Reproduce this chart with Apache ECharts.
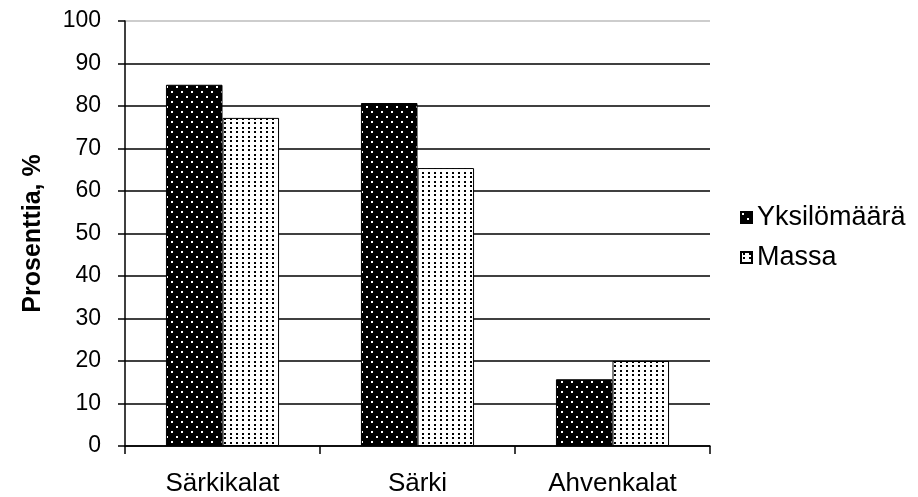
<!DOCTYPE html>
<html>
<head>
<meta charset="utf-8">
<script src="https://cdn.jsdelivr.net/npm/echarts@6/dist/echarts.min.js"></script>
<style>
  html, body { margin: 0; padding: 0; background: #fff; }
  #chart { width: 918px; height: 497px; }
</style>
</head>
<body>
<div id="chart"></div>
<script>
// Fish catch shares by group
const categories = ['Särkikalat', 'Särki', 'Ahvenkalat'];
const seriesNames = ['Yksilömäärä', 'Massa'];
const yksilomaara = [85, 80.7, 15.7];
const massa = [77.2, 65.4, 20];
const yTicks = [0, 10, 20, 30, 40, 50, 60, 70, 80, 90, 100];

const FONT = '"Liberation Sans", Arial, sans-serif';

// Dotted fill tiles: white dots on black, and black dots on white
function makeTile(w, h, bg, fg, dots) {
  const c = document.createElement('canvas');
  c.width = w; c.height = h;
  const ctx = c.getContext('2d');
  ctx.fillStyle = bg; ctx.fillRect(0, 0, w, h);
  ctx.fillStyle = fg;
  dots.forEach(d => ctx.fillRect(d[0], d[1], d[2], d[3]));
  return c;
}
const darkTile = makeTile(10, 10, '#000', '#fff', [[1, 1, 2, 2], [6, 6, 2, 2]]);
const lightTile = makeTile(6, 9, '#fff', '#000', [[2, 1, 2, 2], [2, 5, 2, 2]]);

const gridColors = yTicks.map((v, i) => i === yTicks.length - 1 ? '#bdbdbd' : '#000');

const chart = echarts.init(document.getElementById('chart'), null, { renderer: 'canvas' });
chart.setOption({
  animation: false,
  backgroundColor: '#fff',
  textStyle: { fontFamily: FONT, color: '#000' },
  grid: { left: 125, right: 208, top: 21, bottom: 50, containLabel: false },
  legend: {
    orient: 'vertical',
    left: 735,
    top: 199,
    itemWidth: 11,
    itemHeight: 11,
    itemGap: 13,
    icon: 'rect',
    textStyle: { fontFamily: FONT, fontSize: 27, color: '#000' },
    data: seriesNames
  },
  xAxis: {
    type: 'category',
    data: categories,
    axisLine: { lineStyle: { color: '#000', width: 1.5 } },
    axisTick: { show: true, length: 8, lineStyle: { color: '#000', width: 1.5 } },
    axisLabel: { fontFamily: FONT, fontSize: 26, color: '#000', margin: 25 },
    splitLine: { show: false }
  },
  yAxis: {
    type: 'value',
    min: yTicks[0],
    max: yTicks[yTicks.length - 1],
    interval: 10,
    name: 'Prosenttia, %',
    nameLocation: 'middle',
    nameGap: 79,
    nameRotate: 90,
    nameTextStyle: { fontFamily: FONT, fontSize: 25, fontWeight: 'bold', color: '#000' },
    axisLine: { show: true, lineStyle: { color: '#000', width: 1.5 } },
    axisTick: { show: true, length: 7, lineStyle: { color: '#000', width: 1.5 } },
    axisLabel: { fontFamily: FONT, fontSize: 23, color: '#000', margin: 24 },
    splitLine: { show: true, lineStyle: { color: gridColors, width: 1.5 } }
  },
  series: [
    {
      name: seriesNames[0],
      type: 'bar',
      data: yksilomaara,
      barWidth: '29%',
      barGap: '0%',
      itemStyle: { color: { image: darkTile, repeat: 'repeat' }, borderColor: '#000', borderWidth: 1 }
    },
    {
      name: seriesNames[1],
      type: 'bar',
      data: massa,
      barWidth: '29%',
      barGap: '0%',
      itemStyle: { color: { image: lightTile, repeat: 'repeat' }, borderColor: '#000', borderWidth: 1 }
    }
  ]
});
</script>
</body>
</html>
